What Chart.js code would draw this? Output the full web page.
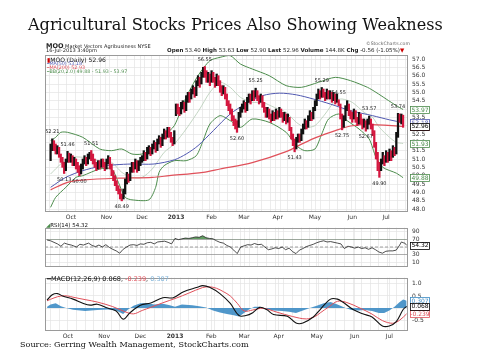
<!DOCTYPE html>
<html><head><meta charset="utf-8">
<script src="https://cdn.jsdelivr.net/npm/chart.js@4.4.1/dist/chart.umd.min.js"></script>
<style>
html,body{margin:0;padding:0;background:#fff;}
#wrap{position:relative;width:480px;height:360px;overflow:hidden;background:#fff;}
canvas{position:absolute;left:0;}
.t{position:absolute;white-space:nowrap;line-height:1;}
</style></head><body><div id="wrap">
<canvas id="cPrice" width="480" height="222" style="top:0"></canvas>
<canvas id="cRsi" width="480" height="54" style="top:220px"></canvas>
<canvas id="cMacd" width="480" height="70" style="top:270px"></canvas>
</div>
<script>
// ---------- DATA (trading-day index 0 = 13-Sep-2012 ... 208 = 16-Jul-2013) ----------
const monthStarts = [12,33,54,74,95,114,134,156,178,198];
const monthLabels = ['Oct','Nov','Dec','2013','Feb','Mar','Apr','May','Jun','Jul'];

const closes = [
51.6,52.0,51.8,51.5,51.6,51.2,51.0,50.7,50.4,50.9,51.3,51.0,
51.1,50.8,50.9,50.6,50.4,50.2,50.5,50.9,51.0,50.8,51.1,51.3,51.2,50.9,50.7,50.5,50.8,50.6,50.9,50.7,50.5,
50.8,51.0,50.6,50.2,49.9,49.6,49.3,49.1,48.8,48.7,49.0,49.6,50.0,49.8,50.3,50.6,50.5,50.8,50.4,50.7,50.9,
51.0,51.3,51.1,51.5,51.6,51.4,51.8,51.9,51.6,52.0,52.2,51.9,52.3,52.6,52.4,52.8,52.5,52.2,52.0,52.6,
54.1,54.0,53.8,54.2,54.3,54.0,54.6,54.8,54.7,55.0,55.2,54.9,55.5,55.8,55.6,56.0,56.3,56.1,55.8,56.0,55.7,
56.1,55.8,55.5,55.9,55.6,55.3,55.0,55.2,54.8,54.4,54.1,53.9,53.5,53.2,53.0,52.9,53.6,53.9,54.1,
54.3,54.0,54.5,54.7,54.6,54.9,54.8,55.0,54.7,54.5,54.8,54.3,54.0,53.7,53.9,53.6,53.4,53.7,53.5,53.8,
53.6,53.9,53.7,53.4,53.6,53.3,53.5,52.8,52.4,52.0,51.7,52.1,52.3,52.2,52.6,52.9,53.2,53.0,53.4,53.7,53.5,53.9,
54.3,54.7,55.0,54.8,55.1,54.9,54.7,55.0,54.8,54.9,54.6,54.8,54.5,54.7,54.4,53.6,53.0,53.4,54.0,54.3,53.8,53.6,
53.5,53.8,53.4,53.2,53.6,53.3,53.0,53.2,52.9,53.2,53.4,53.0,52.6,51.9,51.2,50.6,50.4,50.8,51.1,50.9,
51.3,51.0,51.4,51.2,51.6,51.4,52.4,53.5,53.4,53.5,52.96];

const highs = [
51.9,52.21,52.1,51.9,51.8,51.7,51.3,51.1,50.8,51.0,51.46,51.35,
51.3,51.2,51.1,51.0,50.8,50.6,50.7,51.0,51.2,51.1,51.3,51.4,51.51,51.3,51.0,50.8,50.9,50.9,51.0,51.0,50.8,
51.0,51.2,51.1,50.7,50.3,50.0,49.7,49.4,49.2,48.9,49.2,49.8,50.2,50.1,50.5,50.8,50.8,51.0,50.9,50.9,51.1,
51.2,51.5,51.4,51.7,51.8,51.7,51.9,52.1,52.0,52.2,52.4,52.3,52.5,52.8,52.7,52.9,52.9,52.6,52.3,52.7,
54.3,54.3,54.1,54.4,54.5,54.4,54.8,55.0,55.0,55.2,55.4,55.3,55.7,56.0,55.9,56.2,56.5,56.55,56.3,56.2,56.1,
56.3,56.2,55.9,56.1,56.0,55.7,55.4,55.4,55.3,54.9,54.5,54.3,54.0,53.6,53.4,53.3,53.8,54.1,54.3,
54.5,54.4,54.7,54.9,54.9,55.1,55.1,55.25,55.1,54.8,54.9,54.8,54.4,54.1,54.1,54.0,53.7,53.9,53.8,54.0,
53.9,54.1,54.0,53.8,53.8,53.7,53.7,53.5,52.9,52.5,52.2,52.3,52.5,52.5,52.8,53.1,53.4,53.3,53.6,53.9,53.8,54.1,
54.5,54.9,55.2,55.1,55.29,55.2,55.0,55.2,55.1,55.1,55.0,55.0,54.9,54.9,54.55,54.3,53.7,53.6,54.2,54.5,54.3,53.9,
53.8,54.0,53.9,53.5,53.8,53.7,53.4,53.4,53.3,53.4,53.57,53.4,53.1,52.7,52.0,51.4,50.8,51.0,51.4,51.2,
51.5,51.4,51.6,51.5,51.8,51.7,52.6,53.74,53.7,53.7,53.63];

const lows = [
50.9,51.5,51.5,51.3,51.3,51.1,50.8,50.5,50.13,50.3,50.8,50.8,
50.8,50.6,50.6,50.4,50.2,50.00,50.1,50.4,50.7,50.6,50.7,51.0,50.9,50.7,50.5,50.3,50.4,50.4,50.5,50.5,50.3,
50.4,50.7,50.4,50.0,49.7,49.4,49.1,48.9,48.6,48.49,48.6,48.9,49.5,49.6,49.7,50.2,50.2,50.4,50.2,50.3,50.6,
50.8,50.9,50.9,51.0,51.3,51.2,51.3,51.6,51.4,51.5,51.9,51.7,51.8,52.2,52.2,52.3,52.3,52.0,51.8,51.9,
53.6,53.7,53.6,53.7,54.0,53.8,53.9,54.4,54.4,54.6,54.9,54.7,54.8,55.4,55.3,55.5,55.9,55.9,55.6,55.6,55.4,
55.6,55.6,55.3,55.4,55.4,55.0,54.8,54.9,54.6,54.2,53.9,53.7,53.3,53.0,52.8,52.60,52.9,53.5,53.8,
54.0,53.8,53.9,54.4,54.3,54.5,54.5,54.7,54.5,54.3,54.4,54.1,53.8,53.5,53.5,53.4,53.2,53.3,53.3,53.4,
53.4,53.5,53.5,53.2,53.3,53.1,53.2,52.7,52.2,51.8,51.43,51.6,52.0,52.0,52.1,52.5,52.8,52.8,52.9,53.3,53.3,53.4,
53.9,54.2,54.6,54.6,54.7,54.7,54.5,54.6,54.6,54.6,54.4,54.5,54.3,54.4,54.2,53.4,52.75,52.9,53.3,53.9,53.6,53.4,
53.2,53.4,53.2,53.0,53.1,53.1,52.8,52.9,52.67,52.8,53.1,52.8,52.4,51.7,51.0,50.3,49.90,50.3,50.7,50.6,
50.8,50.8,50.9,50.9,51.1,51.2,51.3,52.3,53.2,53.1,52.90];

const ma50 = [[0,49.3],[9,49.9],[19,50.3],[29,50.55],[38,50.65],[48,50.7],[61,50.7],[73,50.95],[80,51.3],[87,51.8],[96,52.7],[106,53.7],[115,54.3],[125,54.8],[135,54.95],[145,54.85],[155,54.6],[165,54.3],[177,53.9],[190,53.6],[200,53.35],[208,53.18]];
const ma200 = [[0,49.15],[10,49.6],[20,49.75],[40,49.85],[60,49.9],[70,50.0],[90,50.2],[100,50.4],[119,50.78],[139,51.44],[149,51.94],[158,52.34],[168,52.7],[177,52.98],[187,53.08],[208,52.95]];
const bbUpper = [[0,52.1],[3,52.3],[6,52.6],[10,52.6],[19,52.3],[29,51.6],[36,51.5],[42,51.6],[48,51.3],[54,51.3],[60,51.6],[64,52.1],[67,52.4],[73,53.0],[80,54.7],[87,56.0],[94,56.9],[100,57.1],[106,57.2],[112,56.7],[119,56.4],[129,56.0],[139,55.4],[148,55.3],[158,55.6],[168,55.9],[177,55.7],[187,55.3],[192,55.0],[198,54.6],[204,54.2],[208,53.97]];
const bbMiddle = [[0,50.1],[6,50.7],[12,51.1],[19,51.1],[29,50.9],[36,50.8],[42,50.2],[48,49.9],[54,49.9],[60,50.4],[67,51.4],[73,51.9],[80,52.8],[88,54.0],[94,55.0],[100,55.6],[106,55.3],[112,54.7],[119,54.4],[125,54.4],[132,54.1],[139,53.8],[145,53.2],[150,52.9],[156,53.0],[162,53.7],[168,54.5],[172,54.6],[178,54.4],[185,53.8],[190,53.5],[194,52.9],[200,52.3],[204,52.0],[208,51.93]];
const bbLower = [[0,48.1],[3,48.7],[9,49.3],[15,49.9],[19,50.0],[29,50.4],[36,50.4],[40,49.6],[44,48.7],[48,48.55],[58,48.55],[62,49.3],[64,50.2],[67,50.6],[73,50.9],[80,50.9],[86,51.2],[90,52.1],[94,53.1],[100,53.6],[106,53.3],[112,52.9],[119,53.4],[129,53.2],[139,52.6],[145,51.8],[150,51.5],[156,51.6],[160,52.5],[164,53.4],[170,53.7],[175,53.3],[182,52.8],[188,52.2],[192,51.1],[196,50.5],[204,50.15],[208,49.88]];

const swingIdx  = [1,8,10,17,24,42,91,110,121,144,160,170,172,186,188,194,205];
const swingVal  = [52.21,50.13,51.46,50.00,51.51,48.49,56.55,52.60,55.25,51.43,55.29,54.55,52.75,52.67,53.57,49.90,53.74];
const swingHigh = [1,0,1,0,1,0,1,0,1,0,1,1,0,0,1,0,1];

const priceTicks = [48.0,48.5,49.0,49.5,50.0,50.5,51.0,51.5,52.0,52.5,53.0,53.5,54.0,54.5,55.0,55.5,56.0,56.5,57.0];
const rsiTicks = [10,30,50,70,90];
const macdTicks = [-0.5,0,0.5,1.0];

const rsi = [[0,68],[2,66],[4,62],[6,58],[8,52],[10,60],[12,57],[14,55],[17,50],[19,57],[21,55],[24,60],[26,54],[28,51],[30,55],[32,50],[34,56],[36,49],[38,44],[40,40],[42,34],[44,44],[46,50],[48,55],[50,56],[52,54],[54,58],[56,57],[58,61],[60,62],[62,58],[64,63],[66,64],[68,65],[70,62],[72,58],[74,72],[76,69],[78,71],[80,73],[82,72],[84,74],[86,76],[88,75],[90,79],[92,74],[94,72],[96,71],[98,66],[100,62],[102,60],[104,54],[106,50],[108,42],[110,33],[112,50],[114,53],[116,56],[118,55],[120,59],[122,56],[124,57],[126,50],[128,43],[130,45],[132,48],[134,46],[136,50],[138,43],[140,47],[142,38],[144,33],[146,42],[148,46],[150,51],[152,54],[154,57],[156,61],[158,64],[160,66],[162,63],[164,64],[166,62],[168,60],[170,58],[172,46],[174,52],[176,50],[178,47],[180,50],[182,46],[184,48],[186,44],[188,48],[190,43],[192,37],[194,34],[196,39],[198,40],[200,40],[202,42],[204,55],[205,63],[206,61],[207,60],[208,54.32]];

const macd = [[0,0.33],[3,0.55],[6,0.6],[9,0.5],[15,0.37],[21,0.19],[25,0.12],[29,0.16],[35,0.0],[40,-0.12],[44,-0.46],[48,-0.19],[54,0.12],[60,0.21],[67,0.43],[73,0.43],[79,0.68],[87,0.86],[90,0.93],[94,0.86],[100,0.6],[106,0.19],[111,-0.31],[115,-0.31],[119,-0.19],[123,0.03],[127,-0.06],[131,-0.27],[139,-0.34],[144,-0.62],[148,-0.62],[154,-0.37],[158,-0.06],[164,0.37],[168,0.37],[171,0.25],[177,-0.06],[183,-0.25],[188,-0.37],[194,-0.74],[198,-0.74],[202,-0.56],[206,-0.06],[208,0.068]];
const signal = [[0,0.3],[4,0.42],[8,0.5],[12,0.5],[15,0.45],[22,0.35],[29,0.25],[38,0.06],[45,-0.15],[50,-0.24],[55,-0.1],[60,0.03],[67,0.22],[75,0.42],[82,0.62],[90,0.85],[94,0.88],[98,0.82],[102,0.68],[106,0.5],[110,0.2],[114,-0.12],[119,-0.08],[125,-0.01],[133,-0.17],[142,-0.35],[150,-0.45],[155,-0.35],[158,-0.2],[163,0.05],[168,0.28],[173,0.24],[181,0.0],[188,-0.25],[194,-0.52],[200,-0.63],[204,-0.5],[208,-0.239]];
const hist = [[0,0.05],[2,0.15],[5,0.2],[8,0.08],[11,0.0],[15,-0.07],[22,-0.12],[29,-0.08],[35,-0.06],[40,-0.1],[44,-0.25],[47,-0.05],[50,0.1],[54,0.2],[58,0.2],[62,0.15],[67,0.18],[71,0.12],[74,0.05],[78,0.15],[84,0.12],[88,0.08],[92,0.02],[96,-0.1],[100,-0.18],[104,-0.25],[108,-0.3],[111,-0.35],[114,-0.2],[117,-0.05],[120,0.05],[123,0.05],[127,-0.05],[131,-0.1],[136,-0.12],[140,-0.15],[144,-0.2],[148,-0.1],[152,0.0],[156,0.1],[160,0.2],[164,0.25],[168,0.15],[172,0.02],[176,-0.08],[180,-0.1],[184,-0.08],[188,-0.12],[192,-0.2],[195,-0.2],[198,-0.1],[201,0.05],[204,0.25],[206,0.35],[208,0.307]];

const priceBoxes = [[52.93,'#e0505a'],[53.18,'#5058b0'],[53.97,'#4c8c4c'],[51.93,'#4c8c4c'],[49.88,'#4c8c4c'],[52.96,'#000000']];
const rsiBoxes = [[54.32,'#000000']];
const macdBoxes = [[-0.239,'#e0505a'],[0.307,'#3d8cc4'],[0.068,'#000000']];

// ---------- STYLE / LAYOUT ----------
const RED='#d4173f', MA50C='#5058b0', MA200C='#e0505a', BBC='#4c8c4c', BBM='#b5ccb5';
const X_MIN=-1.2, X_MAX=208.8;
const weekGrid=[]; for(let v=2; v<=X_MAX; v+=5) weekGrid.push(v);
const xTickVals=[...new Set([...weekGrid,...monthStarts])].sort((a,b)=>a-b);
const pairs = a => a.map(p=>({x:p[0],y:p[1]}));
Chart.defaults.font.family='DejaVu Sans';

function xScale(show,h){
  return {type:'linear',min:X_MIN,max:X_MAX,
    afterBuildTicks:s=>{s.ticks=xTickVals.map(v=>({value:v}));},
    afterFit:s=>{s.height=h;},
    grid:{color:'#e4e4e4',lineWidth:0.7,drawTicks:false},
    border:{display:false},
    ticks:{display:show,autoSkip:false,maxRotation:0,minRotation:0,padding:2,color:'#333',
      font:c=>({family:'DejaVu Sans',size:6,weight:(c.tick&&c.tick.label==='2013')?'bold':'normal'}),
      callback:v=>{const k=monthStarts.indexOf(v);return k<0?'':monthLabels[k];}}};
}
function yScale(min,max,vals,fmt,gridColor){
  return {type:'linear',position:'right',min,max,
    afterBuildTicks:s=>{s.ticks=vals.map(v=>({value:v}));},
    afterFit:s=>{s.width=40;},
    grid:{color:gridColor||'#e4e4e4',lineWidth:0.7,drawTicks:false},
    border:{display:false},
    ticks:{autoSkip:false,padding:4,color:'#333',font:{family:'DejaVu Sans',size:6},callback:fmt}};
}
const framePlugin={id:'frame',afterDraw(ch){const a=ch.chartArea,c=ch.ctx;c.save();c.strokeStyle='#9a9a9a';c.lineWidth=1;c.strokeRect(Math.round(a.left)+0.5,Math.round(a.top)+0.5,Math.round(a.right-a.left)-1,Math.round(a.bottom-a.top)-1);c.restore();}};
const boxPlugin={id:'boxes',afterDraw(ch,args,opts){
  const c=ch.ctx,y=ch.scales.y,a=ch.chartArea;c.save();
  c.font='6px DejaVu Sans';c.textAlign='center';c.textBaseline='middle';
  (opts.items||[]).forEach(([v,col])=>{const py=y.getPixelForValue(v);const x0=a.right+2,w=20,h=7;
    c.fillStyle='#fff';c.fillRect(x0,py-h/2,w,h);c.strokeStyle=col;c.lineWidth=0.8;c.strokeRect(x0+0.5,Math.round(py-h/2)+0.5,w-1,h);
    c.fillStyle=col;c.fillText(opts.fmt(v),x0+w/2,py+0.5);});
  c.restore();}};
const swingPlugin={id:'swings',afterDatasetsDraw(ch){
  const c=ch.ctx,x=ch.scales.x,y=ch.scales.y;c.save();c.font='5px DejaVu Sans';c.fillStyle='#222';c.textAlign='center';c.textBaseline='middle';
  swingIdx.forEach((i,k)=>{const px=x.getPixelForValue(i),py=y.getPixelForValue(swingVal[k])+(swingHigh[k]?-7:6);c.fillText(swingVal[k].toFixed(2),px,py);});
  c.restore();}};
const common={responsive:false,animation:false,events:[],plugins:{legend:{display:false},tooltip:{enabled:false}}};
const line=(d,col,w,t,o)=>({type:'line',data:pairs(d),borderColor:col,borderWidth:w,pointRadius:0,tension:t,fill:false,order:o});

new Chart(document.getElementById('cPrice'),{type:'line',
  data:{datasets:[
    {type:'bar',data:highs.map((h,i)=>({x:i,y:[lows[i],h]})),backgroundColor:c=>{const i=c.dataIndex;return(i>0&&closes[i]<closes[i-1])?RED:'#111';},barThickness:1.6,grouped:false,order:0},
    line(ma50,MA50C,1,0.3,2),line(ma200,MA200C,1.2,0.3,3),
    line(bbUpper,BBC,1,0.25,4),line(bbLower,BBC,1,0.25,4),line(bbMiddle,BBM,0.8,0.25,5)]},
  options:{...common,layout:{padding:{left:45,right:32,top:55,bottom:0}},
    scales:{x:xScale(true,10),y:yScale(47.82,57.24,priceTicks,v=>v.toFixed(1))},
    plugins:{...common.plugins,boxes:{items:priceBoxes,fmt:v=>v.toFixed(2)}}},
  plugins:[framePlugin,swingPlugin,boxPlugin]});

new Chart(document.getElementById('cRsi'),{type:'line',
  data:{datasets:[
    {data:pairs(rsi),borderColor:'#222',borderWidth:0.8,pointRadius:0,tension:0,fill:{target:{value:70},above:'rgba(70,140,70,0.85)',below:'rgba(0,0,0,0)'},order:0},
    {data:[{x:X_MIN,y:50},{x:X_MAX,y:50}],borderColor:'#888',borderWidth:0.8,borderDash:[3,2],pointRadius:0,fill:false,order:1}]},
  options:{...common,layout:{padding:{left:45,right:32,top:4.3,bottom:2.6}},
    scales:{x:xScale(false,0),y:yScale(0,100,rsiTicks,v=>v===50?'':String(v),c=>(c.tick&&(c.tick.value===70||c.tick.value===30))?'#8a8a8a':'#e4e4e4')},
    plugins:{...common.plugins,boxes:{items:rsiBoxes,fmt:v=>v.toFixed(2)}}},
  plugins:[framePlugin,boxPlugin]});

new Chart(document.getElementById('cMacd'),{type:'line',
  data:{datasets:[
    {data:pairs(hist),borderWidth:0,pointRadius:0,tension:0,fill:'origin',backgroundColor:'rgba(61,140,196,0.9)',borderColor:'rgba(0,0,0,0)',order:3},
    line(signal,MA200C,1,0.35,1),line(macd,'#111',1.1,0.35,0)]},
  options:{...common,layout:{padding:{left:45,right:32,top:2,bottom:0}},
    scales:{x:xScale(true,9),y:yScale(-0.95,1.262,macdTicks,v=>v===0?'':v.toFixed(1))},
    plugins:{...common.plugins,boxes:{items:macdBoxes,fmt:v=>v.toFixed(3)}}},
  plugins:[framePlugin,boxPlugin]});

// ---------- TEXT ----------
const wrap=document.getElementById('wrap');
function addText(html,x,yc,w,family,color){
  const d=document.createElement('div');d.className='t';d.style.fontFamily=family;d.style.color=color;
  d.style.fontSize='20px';d.innerHTML=html;wrap.appendChild(d);
  const s=20*w/d.getBoundingClientRect().width;d.style.fontSize=s+'px';d.style.left=x+'px';d.style.top=(yc-0.486*s)+'px';
}
function addFixed(html,x,yc,s,family,color){
  const d=document.createElement('div');d.className='t';d.style.fontFamily=family;d.style.color=color;
  d.style.fontSize=s+'px';d.innerHTML=html;d.style.left=x+'px';d.style.top=(yc-0.486*s)+'px';wrap.appendChild(d);
}
const SERIF="'DejaVu Serif', serif", SANS="'DejaVu Sans', sans-serif";
addText('Agricultural Stocks Prices Also Showing Weakness',28,24.8,415,SERIF,'#111');
addText('Source: Gerring Wealth Management, StockCharts.com',20,344.3,229,SERIF,'#111');
addFixed('<b style="font-size:6.5px">MOO</b> Market Vectors Agribusiness NYSE',46,45,5,SANS,'#222');
addText('16-Jul-2013 3:40pm',46,50.7,51,SANS,'#222');
addText('<b>Open</b> 53.40 <b>High</b> 53.63 <b>Low</b> 52.90 <b>Last</b> 52.96 <b>Volume</b> 144.8K <b>Chg</b> -0.56 (-1.05%)<span style="color:#c00">▼</span>',167,51,238,SANS,'#222');
addText('©StockCharts.com',366,44.5,44,SANS,'#666');
addFixed('<span style="color:#c00">▮</span>MOO (Daily) 52.96',47,59.5,6,SANS,'#111');
addFixed('<span style="font-size:4px">━</span>MA(50) 53.18',47,64.3,4.8,SANS,MA50C);
addFixed('<span style="font-size:4px">━</span>MA(200) 52.93',47,68.5,4.8,SANS,MA200C);
addFixed('<span style="font-size:4px">━</span>BB(20,2.0) 49.88 - 51.93 - 53.97',47,72.8,4.8,SANS,BBC);
addFixed('<span style="color:#4c8c4c">◢</span>RSI(14) 54.32',46,225.5,5.5,SANS,'#111');
addText('━MACD(12,26,9) 0.068, <span style="color:#e0505a">-0.239</span>, <span style="color:#7fb3d9">0.307</span>',47,279,122,SANS,'#111');
</script></body></html>
